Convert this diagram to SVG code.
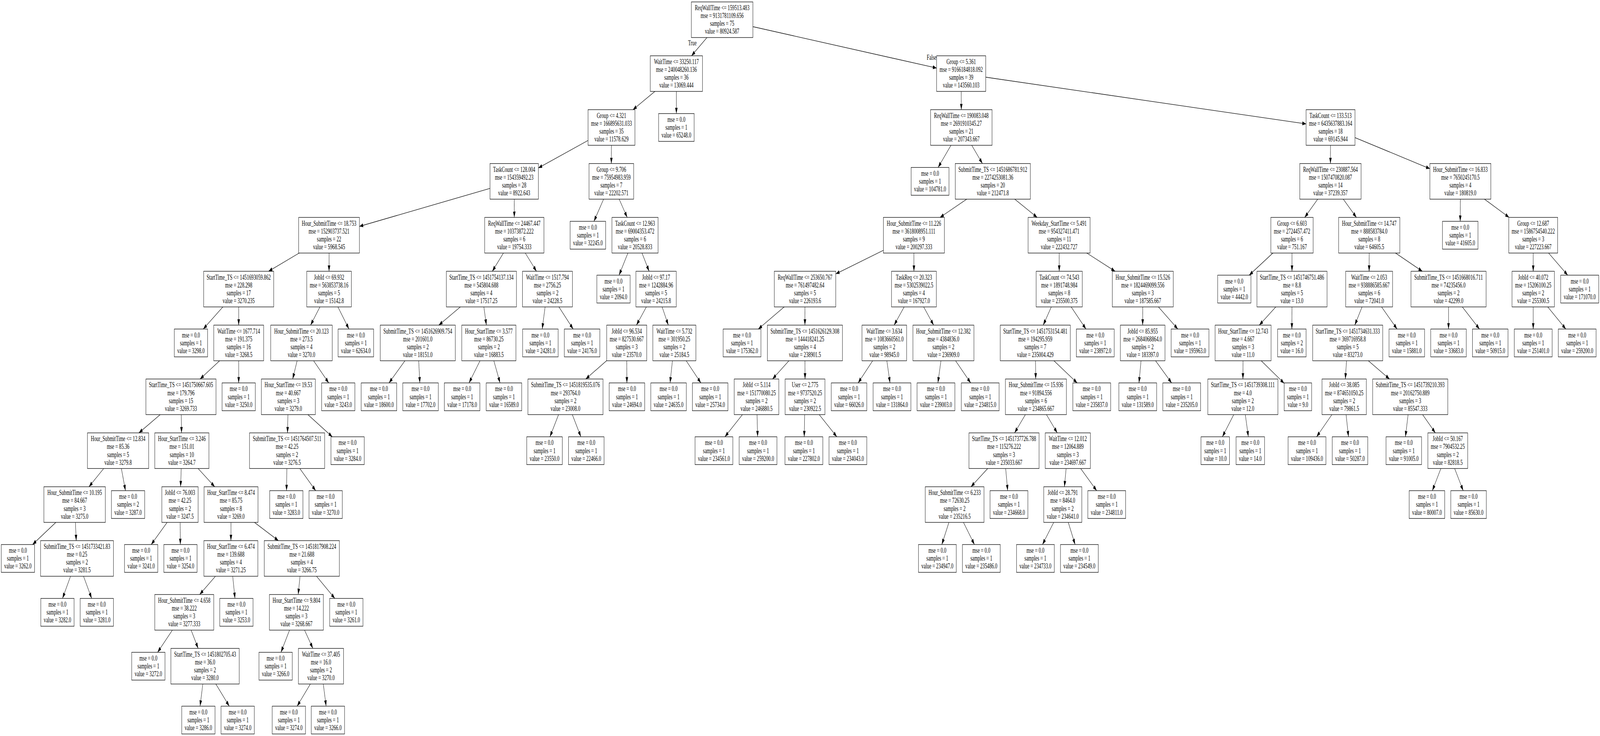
<svg xmlns="http://www.w3.org/2000/svg" width="6348" height="1884" viewBox="0 0 6348 1884" preserveAspectRatio="none" style="width:100vw;height:100vh;display:block">
<defs>
<style>
.n rect{fill:#fff;stroke:#000;stroke-width:1.3}
.n text,.lbl{font-family:"Liberation Serif","Times New Roman",serif;font-size:18.2px;text-anchor:middle;fill:#000}
.e line{stroke:#000;stroke-width:1.3;marker-end:url(#ah)}
</style>
<marker id="ah" markerUnits="userSpaceOnUse" viewBox="0 -6 16 12" refX="15" refY="0" markerWidth="16" markerHeight="12" orient="auto"><path d="M0,-5L15,0L0,5z" fill="#000"/></marker>
</defs>
<rect width="6348" height="1884" fill="#fff"/>
<g id="edges" class="e">
<line x1="2865" y1="50.5" x2="2743.5" y2="142.8"/>
<line x1="2865" y1="50.5" x2="3716" y2="174.2"/>
<line x1="2683.5" y1="188.4" x2="2511.2" y2="280.7"/>
<line x1="2683.5" y1="188.4" x2="2683.5" y2="290.7"/>
<line x1="3813.5" y1="188.4" x2="3814" y2="280.7"/>
<line x1="3813.5" y1="188.4" x2="5182" y2="317.2"/>
<line x1="2426" y1="326.3" x2="2136" y2="429.9"/>
<line x1="2426" y1="326.3" x2="2425.5" y2="418.6"/>
<line x1="3814" y1="326.3" x2="3722" y2="428.6"/>
<line x1="3814" y1="326.3" x2="3897.7" y2="418.6"/>
<line x1="5279" y1="326.3" x2="5278.5" y2="418.6"/>
<line x1="5279" y1="326.3" x2="5673" y2="431.8"/>
<line x1="2040" y1="464.2" x2="1426" y2="579.5"/>
<line x1="2040" y1="464.2" x2="2040.5" y2="556.5"/>
<line x1="2425.5" y1="464.2" x2="2356.5" y2="566.5"/>
<line x1="2425.5" y1="464.2" x2="2488.4" y2="556.5"/>
<line x1="3939" y1="464.2" x2="3729.5" y2="556.5"/>
<line x1="3939" y1="464.2" x2="4115" y2="556.5"/>
<line x1="5278.5" y1="464.2" x2="5176.4" y2="556.5"/>
<line x1="5278.5" y1="464.2" x2="5381.6" y2="556.5"/>
<line x1="5794" y1="464.2" x2="5793.5" y2="566.5"/>
<line x1="5794" y1="464.2" x2="5987.4" y2="556.5"/>
<line x1="1305.5" y1="602.1" x2="1065.6" y2="694.4"/>
<line x1="1305.5" y1="602.1" x2="1305.5" y2="694.4"/>
<line x1="2040.5" y1="602.1" x2="1953.2" y2="694.4"/>
<line x1="2040.5" y1="602.1" x2="2128.5" y2="694.4"/>
<line x1="2519.5" y1="602.1" x2="2456.1" y2="704.4"/>
<line x1="2519.5" y1="602.1" x2="2575.4" y2="694.4"/>
<line x1="3626" y1="602.1" x2="3316" y2="701.1"/>
<line x1="3626" y1="602.1" x2="3626" y2="694.4"/>
<line x1="4202" y1="602.1" x2="4202.5" y2="694.4"/>
<line x1="4202" y1="602.1" x2="4424.2" y2="694.4"/>
<line x1="5126" y1="602.1" x2="4956.1" y2="704.4"/>
<line x1="5126" y1="602.1" x2="5126" y2="694.4"/>
<line x1="5432.5" y1="602.1" x2="5432" y2="694.4"/>
<line x1="5432.5" y1="602.1" x2="5643" y2="694.4"/>
<line x1="6083" y1="602.1" x2="6083" y2="694.4"/>
<line x1="6083" y1="602.1" x2="6219.9" y2="704.4"/>
<line x1="947" y1="740" x2="806.4" y2="842.3"/>
<line x1="947" y1="740" x2="947" y2="832.3"/>
<line x1="1305.5" y1="740" x2="1232.2" y2="832.3"/>
<line x1="1305.5" y1="740" x2="1384.5" y2="842.3"/>
<line x1="1910" y1="740" x2="1741" y2="832.3"/>
<line x1="1910" y1="740" x2="1929.7" y2="832.3"/>
<line x1="2172" y1="740" x2="2151.2" y2="842.3"/>
<line x1="2172" y1="740" x2="2274" y2="842.3"/>
<line x1="2603" y1="740" x2="2525" y2="832.3"/>
<line x1="2603" y1="740" x2="2651.5" y2="832.3"/>
<line x1="3194" y1="740" x2="3008.6" y2="842.3"/>
<line x1="3194" y1="740" x2="3193.5" y2="832.3"/>
<line x1="3626" y1="740" x2="3547.4" y2="832.3"/>
<line x1="3626" y1="740" x2="3704.3" y2="832.3"/>
<line x1="4202.5" y1="740" x2="4138.9" y2="832.3"/>
<line x1="4202.5" y1="740" x2="4308.6" y2="842.3"/>
<line x1="4534" y1="740" x2="4533.5" y2="832.3"/>
<line x1="4534" y1="740" x2="4673.1" y2="842.3"/>
<line x1="5126" y1="740" x2="4996.2" y2="832.3"/>
<line x1="5126" y1="740" x2="5125.5" y2="842.3"/>
<line x1="5432" y1="740" x2="5375.1" y2="832.3"/>
<line x1="5432" y1="740" x2="5542.9" y2="842.3"/>
<line x1="5747" y1="740" x2="5747" y2="842.3"/>
<line x1="5747" y1="740" x2="5869.8" y2="842.3"/>
<line x1="6083" y1="740" x2="6083" y2="842.3"/>
<line x1="6083" y1="740" x2="6212.4" y2="842.3"/>
<line x1="947" y1="877.9" x2="793.7" y2="970.2"/>
<line x1="947" y1="877.9" x2="947" y2="980.2"/>
<line x1="1196" y1="877.9" x2="1161.2" y2="970.2"/>
<line x1="1196" y1="877.9" x2="1304.3" y2="980.2"/>
<line x1="1657.5" y1="877.9" x2="1543.3" y2="980.2"/>
<line x1="1657.5" y1="877.9" x2="1665.7" y2="980.2"/>
<line x1="1939.5" y1="877.9" x2="1860.9" y2="980.2"/>
<line x1="1939.5" y1="877.9" x2="1984" y2="980.2"/>
<line x1="2486.5" y1="877.9" x2="2323.9" y2="970.2"/>
<line x1="2486.5" y1="877.9" x2="2487.2" y2="980.2"/>
<line x1="2675.5" y1="877.9" x2="2658.4" y2="980.2"/>
<line x1="2675.5" y1="877.9" x2="2780.8" y2="980.2"/>
<line x1="3193.5" y1="877.9" x2="3065" y2="970.2"/>
<line x1="3193.5" y1="877.9" x2="3194" y2="970.2"/>
<line x1="3508.5" y1="877.9" x2="3404.6" y2="980.2"/>
<line x1="3508.5" y1="877.9" x2="3531.1" y2="980.2"/>
<line x1="3743" y1="877.9" x2="3721.1" y2="980.2"/>
<line x1="3743" y1="877.9" x2="3851.3" y2="980.2"/>
<line x1="4107.5" y1="877.9" x2="4109.2" y2="970.2"/>
<line x1="4107.5" y1="877.9" x2="4273.7" y2="980.2"/>
<line x1="4533.5" y1="877.9" x2="4519" y2="980.2"/>
<line x1="4533.5" y1="877.9" x2="4648.5" y2="980.2"/>
<line x1="4932" y1="877.9" x2="4931.3" y2="970.2"/>
<line x1="4932" y1="877.9" x2="5095" y2="981.2"/>
<line x1="5347" y1="877.9" x2="5337.6" y2="970.2"/>
<line x1="5347" y1="877.9" x2="5513" y2="970.2"/>
<line x1="718" y1="1015.8" x2="551" y2="1108.1"/>
<line x1="718" y1="1015.8" x2="720.3" y2="1108.1"/>
<line x1="1144" y1="1015.8" x2="1140.7" y2="1108.1"/>
<line x1="1144" y1="1015.8" x2="1318.3" y2="1118.1"/>
<line x1="2243.5" y1="1015.8" x2="2181.9" y2="1118.1"/>
<line x1="2243.5" y1="1015.8" x2="2304.7" y2="1118.1"/>
<line x1="3001.5" y1="1015.8" x2="2876.1" y2="1118.1"/>
<line x1="3001.5" y1="1015.8" x2="3006" y2="1118.1"/>
<line x1="3194" y1="1015.8" x2="3190.7" y2="1118.1"/>
<line x1="3194" y1="1015.8" x2="3320.1" y2="1118.1"/>
<line x1="4110" y1="1015.8" x2="4025.3" y2="1108.1"/>
<line x1="4110" y1="1015.8" x2="4194.7" y2="1108.1"/>
<line x1="4931" y1="1015.8" x2="4849.8" y2="1118.1"/>
<line x1="4931" y1="1015.8" x2="4952.9" y2="1118.1"/>
<line x1="5333" y1="1015.8" x2="5223.6" y2="1118.1"/>
<line x1="5333" y1="1015.8" x2="5350.1" y2="1118.1"/>
<line x1="5595" y1="1015.8" x2="5576.1" y2="1118.1"/>
<line x1="5595" y1="1015.8" x2="5694.7" y2="1108.1"/>
<line x1="468.5" y1="1153.7" x2="353" y2="1246"/>
<line x1="468.5" y1="1153.7" x2="497.8" y2="1256"/>
<line x1="721.5" y1="1153.7" x2="716.5" y2="1246"/>
<line x1="721.5" y1="1153.7" x2="852" y2="1246"/>
<line x1="1139" y1="1153.7" x2="1136.8" y2="1256"/>
<line x1="1139" y1="1153.7" x2="1252.5" y2="1256"/>
<line x1="3983.5" y1="1153.7" x2="3852.3" y2="1246"/>
<line x1="3983.5" y1="1153.7" x2="3998" y2="1256"/>
<line x1="4236.5" y1="1153.7" x2="4223.1" y2="1246"/>
<line x1="4236.5" y1="1153.7" x2="4351.1" y2="1256"/>
<line x1="5744" y1="1153.7" x2="5682.8" y2="1256"/>
<line x1="5744" y1="1153.7" x2="5805.2" y2="1256"/>
<line x1="296" y1="1291.6" x2="129.1" y2="1393.9"/>
<line x1="296" y1="1291.6" x2="302.4" y2="1383.9"/>
<line x1="714" y1="1291.6" x2="599.8" y2="1393.9"/>
<line x1="714" y1="1291.6" x2="715.5" y2="1393.9"/>
<line x1="916.5" y1="1291.6" x2="916.2" y2="1383.9"/>
<line x1="916.5" y1="1291.6" x2="1104.6" y2="1383.9"/>
<line x1="3787.5" y1="1291.6" x2="3736.7" y2="1393.9"/>
<line x1="3787.5" y1="1291.6" x2="3866.1" y2="1393.9"/>
<line x1="4216.5" y1="1291.6" x2="4136" y2="1393.9"/>
<line x1="4216.5" y1="1291.6" x2="4265.5" y2="1393.9"/>
<line x1="305.5" y1="1429.5" x2="248" y2="1531.8"/>
<line x1="305.5" y1="1429.5" x2="363.7" y2="1531.8"/>
<line x1="916" y1="1429.5" x2="792.2" y2="1521.8"/>
<line x1="916" y1="1429.5" x2="932.3" y2="1531.8"/>
<line x1="1197.5" y1="1429.5" x2="1183.1" y2="1521.8"/>
<line x1="1197.5" y1="1429.5" x2="1328.4" y2="1531.8"/>
<line x1="731" y1="1567.4" x2="625.3" y2="1669.7"/>
<line x1="731" y1="1567.4" x2="786.2" y2="1659.7"/>
<line x1="1176" y1="1567.4" x2="1114.8" y2="1669.7"/>
<line x1="1176" y1="1567.4" x2="1241.3" y2="1659.7"/>
<line x1="813.5" y1="1705.3" x2="793.8" y2="1807.6"/>
<line x1="813.5" y1="1705.3" x2="909.6" y2="1807.6"/>
<line x1="1273.5" y1="1705.3" x2="1178.9" y2="1807.6"/>
<line x1="1273.5" y1="1705.3" x2="1293.9" y2="1807.6"/>
</g>
<text class="lbl" x="2747" y="116.5">True</text>
<text class="lbl" x="3696" y="153">False</text>
<g id="n0" class="n" transform="translate(2865 50.5)"><rect x="-122" y="-45.6" width="244" height="91.2"/><text y="-24.4">ReqWallTime &lt;= 159513.483</text><text y="-4.3">mse = 9131781109.656</text><text y="15.9">samples = 75</text><text y="36">value = 80924.587</text></g>
<g id="n1" class="n" transform="translate(2683.5 188.4)"><rect x="-103.5" y="-45.6" width="207" height="91.2"/><text y="-24.4">WaitTime &lt;= 33250.117</text><text y="-4.3">mse = 240048260.136</text><text y="15.9">samples = 36</text><text y="36">value = 13069.444</text></g>
<g id="n2" class="n" transform="translate(3813.5 188.4)"><rect x="-97.5" y="-45.6" width="195" height="91.2"/><text y="-24.4">Group &lt;= 5.361</text><text y="-4.3">mse = 9166184818.092</text><text y="15.9">samples = 39</text><text y="36">value = 143560.103</text></g>
<g id="n3" class="n" transform="translate(2426 326.3)"><rect x="-93" y="-45.6" width="186" height="91.2"/><text y="-24.4">Group &lt;= 4.321</text><text y="-4.3">mse = 166895631.033</text><text y="15.9">samples = 35</text><text y="36">value = 11578.629</text></g>
<g id="n4" class="n" transform="translate(2683.5 326.3)"><rect x="-70.5" y="-35.6" width="141" height="71.2"/><text y="-14.4">mse = 0.0</text><text y="5.8">samples = 1</text><text y="26">value = 65248.0</text></g>
<g id="n5" class="n" transform="translate(3814 326.3)"><rect x="-122" y="-45.6" width="244" height="91.2"/><text y="-24.4">ReqWallTime &lt;= 190083.048</text><text y="-4.3">mse = 2691910345.27</text><text y="15.9">samples = 21</text><text y="36">value = 207343.667</text></g>
<g id="n6" class="n" transform="translate(5279 326.3)"><rect x="-97" y="-45.6" width="194" height="91.2"/><text y="-24.4">TaskCount &lt;= 133.513</text><text y="-4.3">mse = 6435637883.164</text><text y="15.9">samples = 18</text><text y="36">value = 69145.944</text></g>
<g id="n7" class="n" transform="translate(2040 464.2)"><rect x="-96" y="-45.6" width="192" height="91.2"/><text y="-24.4">TaskCount &lt;= 128.004</text><text y="-4.3">mse = 154359492.23</text><text y="15.9">samples = 28</text><text y="36">value = 8922.643</text></g>
<g id="n8" class="n" transform="translate(2425.5 464.2)"><rect x="-88.5" y="-45.6" width="177" height="91.2"/><text y="-24.4">Group &lt;= 9.706</text><text y="-4.3">mse = 75954983.959</text><text y="15.9">samples = 7</text><text y="36">value = 22202.571</text></g>
<g id="n9" class="n" transform="translate(3690 464.2)"><rect x="-75" y="-35.6" width="150" height="71.2"/><text y="-14.4">mse = 0.0</text><text y="5.8">samples = 1</text><text y="26">value = 104781.0</text></g>
<g id="n10" class="n" transform="translate(3939 464.2)"><rect x="-149" y="-45.6" width="298" height="91.2"/><text y="-24.4">SubmitTime_TS &lt;= 1451686781.912</text><text y="-4.3">mse = 2274253081.36</text><text y="15.9">samples = 20</text><text y="36">value = 212471.8</text></g>
<g id="n11" class="n" transform="translate(5278.5 464.2)"><rect x="-121.5" y="-45.6" width="243" height="91.2"/><text y="-24.4">ReqWallTime &lt;= 230887.564</text><text y="-4.3">mse = 1507470820.087</text><text y="15.9">samples = 14</text><text y="36">value = 37239.357</text></g>
<g id="n12" class="n" transform="translate(5794 464.2)"><rect x="-121" y="-45.6" width="242" height="91.2"/><text y="-24.4">Hour_SubmitTime &lt;= 16.833</text><text y="-4.3">mse = 7650245170.5</text><text y="15.9">samples = 4</text><text y="36">value = 180819.0</text></g>
<g id="n13" class="n" transform="translate(1305.5 602.1)"><rect x="-120.5" y="-45.6" width="241" height="91.2"/><text y="-24.4">Hour_SubmitTime &lt;= 18.753</text><text y="-4.3">mse = 152903737.521</text><text y="15.9">samples = 22</text><text y="36">value = 5968.545</text></g>
<g id="n14" class="n" transform="translate(2040.5 602.1)"><rect x="-117.5" y="-45.6" width="235" height="91.2"/><text y="-24.4">ReqWallTime &lt;= 24467.447</text><text y="-4.3">mse = 10373872.222</text><text y="15.9">samples = 6</text><text y="36">value = 19754.333</text></g>
<g id="n15" class="n" transform="translate(2332.5 602.1)"><rect x="-70.5" y="-35.6" width="141" height="71.2"/><text y="-14.4">mse = 0.0</text><text y="5.8">samples = 1</text><text y="26">value = 32245.0</text></g>
<g id="n16" class="n" transform="translate(2519.5 602.1)"><rect x="-91.5" y="-45.6" width="183" height="91.2"/><text y="-24.4">TaskCount &lt;= 12.963</text><text y="-4.3">mse = 69004353.472</text><text y="15.9">samples = 6</text><text y="36">value = 20528.833</text></g>
<g id="n17" class="n" transform="translate(3626 602.1)"><rect x="-121" y="-45.6" width="242" height="91.2"/><text y="-24.4">Hour_SubmitTime &lt;= 11.226</text><text y="-4.3">mse = 3618008951.111</text><text y="15.9">samples = 9</text><text y="36">value = 200297.333</text></g>
<g id="n18" class="n" transform="translate(4202 602.1)"><rect x="-123" y="-45.6" width="246" height="91.2"/><text y="-24.4">Weekday_StartTime &lt;= 5.491</text><text y="-4.3">mse = 954327411.471</text><text y="15.9">samples = 11</text><text y="36">value = 222432.727</text></g>
<g id="n19" class="n" transform="translate(5126 602.1)"><rect x="-84" y="-45.6" width="168" height="91.2"/><text y="-24.4">Group &lt;= 6.603</text><text y="-4.3">mse = 2724457.472</text><text y="15.9">samples = 6</text><text y="36">value = 751.167</text></g>
<g id="n20" class="n" transform="translate(5432.5 602.1)"><rect x="-121.5" y="-45.6" width="243" height="91.2"/><text y="-24.4">Hour_SubmitTime &lt;= 14.747</text><text y="-4.3">mse = 888583784.0</text><text y="15.9">samples = 8</text><text y="36">value = 64605.5</text></g>
<g id="n21" class="n" transform="translate(5793.5 602.1)"><rect x="-70.5" y="-35.6" width="141" height="71.2"/><text y="-14.4">mse = 0.0</text><text y="5.8">samples = 1</text><text y="26">value = 41605.0</text></g>
<g id="n22" class="n" transform="translate(6083 602.1)"><rect x="-97" y="-45.6" width="194" height="91.2"/><text y="-24.4">Group &lt;= 12.687</text><text y="-4.3">mse = 1586754540.222</text><text y="15.9">samples = 3</text><text y="36">value = 227223.667</text></g>
<g id="n23" class="n" transform="translate(947 740)"><rect x="-139" y="-45.6" width="278" height="91.2"/><text y="-24.4">StartTime_TS &lt;= 1451693059.862</text><text y="-4.3">mse = 228.298</text><text y="15.9">samples = 17</text><text y="36">value = 3270.235</text></g>
<g id="n24" class="n" transform="translate(1305.5 740)"><rect x="-88.5" y="-45.6" width="177" height="91.2"/><text y="-24.4">JobId &lt;= 69.932</text><text y="-4.3">mse = 563853738.16</text><text y="15.9">samples = 5</text><text y="36">value = 15142.8</text></g>
<g id="n25" class="n" transform="translate(1910 740)"><rect x="-139" y="-45.6" width="278" height="91.2"/><text y="-24.4">StartTime_TS &lt;= 1451754137.134</text><text y="-4.3">mse = 545804.688</text><text y="15.9">samples = 4</text><text y="36">value = 17517.25</text></g>
<g id="n26" class="n" transform="translate(2172 740)"><rect x="-99" y="-45.6" width="198" height="91.2"/><text y="-24.4">WaitTime &lt;= 1517.794</text><text y="-4.3">mse = 2756.25</text><text y="15.9">samples = 2</text><text y="36">value = 24228.5</text></g>
<g id="n27" class="n" transform="translate(2434 740)"><rect x="-66" y="-35.6" width="132" height="71.2"/><text y="-14.4">mse = 0.0</text><text y="5.8">samples = 1</text><text y="26">value = 2094.0</text></g>
<g id="n28" class="n" transform="translate(2603 740)"><rect x="-80" y="-45.6" width="160" height="91.2"/><text y="-24.4">JobId &lt;= 97.17</text><text y="-4.3">mse = 1242884.96</text><text y="15.9">samples = 5</text><text y="36">value = 24215.8</text></g>
<g id="n29" class="n" transform="translate(3194 740)"><rect x="-122" y="-45.6" width="244" height="91.2"/><text y="-24.4">ReqWallTime &lt;= 253650.767</text><text y="-4.3">mse = 761497482.64</text><text y="15.9">samples = 5</text><text y="36">value = 226193.6</text></g>
<g id="n30" class="n" transform="translate(3626 740)"><rect x="-89" y="-45.6" width="178" height="91.2"/><text y="-24.4">TaskReq &lt;= 20.323</text><text y="-4.3">mse = 5302539022.5</text><text y="15.9">samples = 4</text><text y="36">value = 167927.0</text></g>
<g id="n31" class="n" transform="translate(4202.5 740)"><rect x="-91.5" y="-45.6" width="183" height="91.2"/><text y="-24.4">TaskCount &lt;= 74.543</text><text y="-4.3">mse = 1891748.984</text><text y="15.9">samples = 8</text><text y="36">value = 235500.375</text></g>
<g id="n32" class="n" transform="translate(4534 740)"><rect x="-121" y="-45.6" width="242" height="91.2"/><text y="-24.4">Hour_SubmitTime &lt;= 15.526</text><text y="-4.3">mse = 1824469099.556</text><text y="15.9">samples = 3</text><text y="36">value = 187585.667</text></g>
<g id="n33" class="n" transform="translate(4897 740)"><rect x="-66" y="-35.6" width="132" height="71.2"/><text y="-14.4">mse = 0.0</text><text y="5.8">samples = 1</text><text y="26">value = 4442.0</text></g>
<g id="n34" class="n" transform="translate(5126 740)"><rect x="-139" y="-45.6" width="278" height="91.2"/><text y="-24.4">StartTime_TS &lt;= 1451746751.486</text><text y="-4.3">mse = 8.8</text><text y="15.9">samples = 5</text><text y="36">value = 13.0</text></g>
<g id="n35" class="n" transform="translate(5432 740)"><rect x="-93" y="-45.6" width="186" height="91.2"/><text y="-24.4">WaitTime &lt;= 2.053</text><text y="-4.3">mse = 938886585.667</text><text y="15.9">samples = 6</text><text y="36">value = 72041.0</text></g>
<g id="n36" class="n" transform="translate(5747 740)"><rect x="-149" y="-45.6" width="298" height="91.2"/><text y="-24.4">SubmitTime_TS &lt;= 1451668016.711</text><text y="-4.3">mse = 74235456.0</text><text y="15.9">samples = 2</text><text y="36">value = 42299.0</text></g>
<g id="n37" class="n" transform="translate(6083 740)"><rect x="-84" y="-45.6" width="168" height="91.2"/><text y="-24.4">JobId &lt;= 40.072</text><text y="-4.3">mse = 15206100.25</text><text y="15.9">samples = 2</text><text y="36">value = 255300.5</text></g>
<g id="n38" class="n" transform="translate(6267.5 740)"><rect x="-75.5" y="-35.6" width="151" height="71.2"/><text y="-14.4">mse = 0.0</text><text y="5.8">samples = 1</text><text y="26">value = 171070.0</text></g>
<g id="n39" class="n" transform="translate(757.5 877.9)"><rect x="-66" y="-35.6" width="132" height="71.2"/><text y="-14.4">mse = 0.0</text><text y="5.8">samples = 1</text><text y="26">value = 3298.0</text></g>
<g id="n40" class="n" transform="translate(947 877.9)"><rect x="-99" y="-45.6" width="198" height="91.2"/><text y="-24.4">WaitTime &lt;= 1677.714</text><text y="-4.3">mse = 191.375</text><text y="15.9">samples = 16</text><text y="36">value = 3268.5</text></g>
<g id="n41" class="n" transform="translate(1196 877.9)"><rect x="-122" y="-45.6" width="244" height="91.2"/><text y="-24.4">Hour_SubmitTime &lt;= 20.123</text><text y="-4.3">mse = 273.5</text><text y="15.9">samples = 4</text><text y="36">value = 3270.0</text></g>
<g id="n42" class="n" transform="translate(1412 877.9)"><rect x="-70.5" y="-35.6" width="141" height="71.2"/><text y="-14.4">mse = 0.0</text><text y="5.8">samples = 1</text><text y="26">value = 62634.0</text></g>
<g id="n43" class="n" transform="translate(1657.5 877.9)"><rect x="-149" y="-45.6" width="298" height="91.2"/><text y="-24.4">SubmitTime_TS &lt;= 1451626909.754</text><text y="-4.3">mse = 201601.0</text><text y="15.9">samples = 2</text><text y="36">value = 18151.0</text></g>
<g id="n44" class="n" transform="translate(1939.5 877.9)"><rect x="-107.5" y="-45.6" width="215" height="91.2"/><text y="-24.4">Hour_StartTime &lt;= 3.577</text><text y="-4.3">mse = 86730.25</text><text y="15.9">samples = 2</text><text y="36">value = 16883.5</text></g>
<g id="n45" class="n" transform="translate(2144 877.9)"><rect x="-70.5" y="-35.6" width="141" height="71.2"/><text y="-14.4">mse = 0.0</text><text y="5.8">samples = 1</text><text y="26">value = 24281.0</text></g>
<g id="n46" class="n" transform="translate(2309.5 877.9)"><rect x="-70.5" y="-35.6" width="141" height="71.2"/><text y="-14.4">mse = 0.0</text><text y="5.8">samples = 1</text><text y="26">value = 24176.0</text></g>
<g id="n47" class="n" transform="translate(2486.5 877.9)"><rect x="-79.5" y="-45.6" width="159" height="91.2"/><text y="-24.4">JobId &lt;= 96.534</text><text y="-4.3">mse = 827530.667</text><text y="15.9">samples = 3</text><text y="36">value = 23570.0</text></g>
<g id="n48" class="n" transform="translate(2675.5 877.9)"><rect x="-85.5" y="-45.6" width="171" height="91.2"/><text y="-24.4">WaitTime &lt;= 5.732</text><text y="-4.3">mse = 301950.25</text><text y="15.9">samples = 2</text><text y="36">value = 25184.5</text></g>
<g id="n49" class="n" transform="translate(2944 877.9)"><rect x="-75" y="-35.6" width="150" height="71.2"/><text y="-14.4">mse = 0.0</text><text y="5.8">samples = 1</text><text y="26">value = 175362.0</text></g>
<g id="n50" class="n" transform="translate(3193.5 877.9)"><rect x="-149" y="-45.6" width="298" height="91.2"/><text y="-24.4">SubmitTime_TS &lt;= 1451626129.308</text><text y="-4.3">mse = 144418241.25</text><text y="15.9">samples = 4</text><text y="36">value = 238901.5</text></g>
<g id="n51" class="n" transform="translate(3508.5 877.9)"><rect x="-88.5" y="-45.6" width="177" height="91.2"/><text y="-24.4">WaitTime &lt;= 3.634</text><text y="-4.3">mse = 1083660561.0</text><text y="15.9">samples = 2</text><text y="36">value = 98945.0</text></g>
<g id="n52" class="n" transform="translate(3743 877.9)"><rect x="-121" y="-45.6" width="242" height="91.2"/><text y="-24.4">Hour_SubmitTime &lt;= 12.382</text><text y="-4.3">mse = 4384836.0</text><text y="15.9">samples = 2</text><text y="36">value = 236909.0</text></g>
<g id="n53" class="n" transform="translate(4107.5 877.9)"><rect x="-139" y="-45.6" width="278" height="91.2"/><text y="-24.4">StartTime_TS &lt;= 1451753154.481</text><text y="-4.3">mse = 194295.959</text><text y="15.9">samples = 7</text><text y="36">value = 235004.429</text></g>
<g id="n54" class="n" transform="translate(4345.5 877.9)"><rect x="-75" y="-35.6" width="150" height="71.2"/><text y="-14.4">mse = 0.0</text><text y="5.8">samples = 1</text><text y="26">value = 238972.0</text></g>
<g id="n55" class="n" transform="translate(4533.5 877.9)"><rect x="-88.5" y="-45.6" width="177" height="91.2"/><text y="-24.4">JobId &lt;= 85.955</text><text y="-4.3">mse = 2684068864.0</text><text y="15.9">samples = 2</text><text y="36">value = 183397.0</text></g>
<g id="n56" class="n" transform="translate(4721.5 877.9)"><rect x="-75" y="-35.6" width="150" height="71.2"/><text y="-14.4">mse = 0.0</text><text y="5.8">samples = 1</text><text y="26">value = 195963.0</text></g>
<g id="n57" class="n" transform="translate(4932 877.9)"><rect x="-111" y="-45.6" width="222" height="91.2"/><text y="-24.4">Hour_StartTime &lt;= 12.743</text><text y="-4.3">mse = 4.667</text><text y="15.9">samples = 3</text><text y="36">value = 11.0</text></g>
<g id="n58" class="n" transform="translate(5125.5 877.9)"><rect x="-56.5" y="-35.6" width="113" height="71.2"/><text y="-14.4">mse = 0.0</text><text y="5.8">samples = 2</text><text y="26">value = 16.0</text></g>
<g id="n59" class="n" transform="translate(5347 877.9)"><rect x="-139" y="-45.6" width="278" height="91.2"/><text y="-24.4">StartTime_TS &lt;= 1451734631.333</text><text y="-4.3">mse = 369716958.8</text><text y="15.9">samples = 5</text><text y="36">value = 83273.0</text></g>
<g id="n60" class="n" transform="translate(5581.5 877.9)"><rect x="-70.5" y="-35.6" width="141" height="71.2"/><text y="-14.4">mse = 0.0</text><text y="5.8">samples = 1</text><text y="26">value = 15881.0</text></g>
<g id="n61" class="n" transform="translate(5747 877.9)"><rect x="-70.5" y="-35.6" width="141" height="71.2"/><text y="-14.4">mse = 0.0</text><text y="5.8">samples = 1</text><text y="26">value = 33683.0</text></g>
<g id="n62" class="n" transform="translate(5912.5 877.9)"><rect x="-70.5" y="-35.6" width="141" height="71.2"/><text y="-14.4">mse = 0.0</text><text y="5.8">samples = 1</text><text y="26">value = 50915.0</text></g>
<g id="n63" class="n" transform="translate(6083 877.9)"><rect x="-75" y="-35.6" width="150" height="71.2"/><text y="-14.4">mse = 0.0</text><text y="5.8">samples = 1</text><text y="26">value = 251401.0</text></g>
<g id="n64" class="n" transform="translate(6257.5 877.9)"><rect x="-75" y="-35.6" width="150" height="71.2"/><text y="-14.4">mse = 0.0</text><text y="5.8">samples = 1</text><text y="26">value = 259200.0</text></g>
<g id="n65" class="n" transform="translate(718 1015.8)"><rect x="-139" y="-45.6" width="278" height="91.2"/><text y="-24.4">StartTime_TS &lt;= 1451750667.605</text><text y="-4.3">mse = 179.796</text><text y="15.9">samples = 15</text><text y="36">value = 3269.733</text></g>
<g id="n66" class="n" transform="translate(947 1015.8)"><rect x="-66" y="-35.6" width="132" height="71.2"/><text y="-14.4">mse = 0.0</text><text y="5.8">samples = 1</text><text y="26">value = 3250.0</text></g>
<g id="n67" class="n" transform="translate(1144 1015.8)"><rect x="-107" y="-45.6" width="214" height="91.2"/><text y="-24.4">Hour_StartTime &lt;= 19.53</text><text y="-4.3">mse = 40.667</text><text y="15.9">samples = 3</text><text y="36">value = 3279.0</text></g>
<g id="n68" class="n" transform="translate(1342 1015.8)"><rect x="-66" y="-35.6" width="132" height="71.2"/><text y="-14.4">mse = 0.0</text><text y="5.8">samples = 1</text><text y="26">value = 3243.0</text></g>
<g id="n69" class="n" transform="translate(1503.5 1015.8)"><rect x="-70.5" y="-35.6" width="141" height="71.2"/><text y="-14.4">mse = 0.0</text><text y="5.8">samples = 1</text><text y="26">value = 18600.0</text></g>
<g id="n70" class="n" transform="translate(1668.5 1015.8)"><rect x="-70.5" y="-35.6" width="141" height="71.2"/><text y="-14.4">mse = 0.0</text><text y="5.8">samples = 1</text><text y="26">value = 17702.0</text></g>
<g id="n71" class="n" transform="translate(1833.5 1015.8)"><rect x="-70.5" y="-35.6" width="141" height="71.2"/><text y="-14.4">mse = 0.0</text><text y="5.8">samples = 1</text><text y="26">value = 17178.0</text></g>
<g id="n72" class="n" transform="translate(1999.5 1015.8)"><rect x="-70.5" y="-35.6" width="141" height="71.2"/><text y="-14.4">mse = 0.0</text><text y="5.8">samples = 1</text><text y="26">value = 16589.0</text></g>
<g id="n73" class="n" transform="translate(2243.5 1015.8)"><rect x="-149" y="-45.6" width="298" height="91.2"/><text y="-24.4">SubmitTime_TS &lt;= 1451819535.076</text><text y="-4.3">mse = 293764.0</text><text y="15.9">samples = 2</text><text y="36">value = 23008.0</text></g>
<g id="n74" class="n" transform="translate(2487.5 1015.8)"><rect x="-70.5" y="-35.6" width="141" height="71.2"/><text y="-14.4">mse = 0.0</text><text y="5.8">samples = 1</text><text y="26">value = 24694.0</text></g>
<g id="n75" class="n" transform="translate(2652.5 1015.8)"><rect x="-70.5" y="-35.6" width="141" height="71.2"/><text y="-14.4">mse = 0.0</text><text y="5.8">samples = 1</text><text y="26">value = 24635.0</text></g>
<g id="n76" class="n" transform="translate(2817.5 1015.8)"><rect x="-70.5" y="-35.6" width="141" height="71.2"/><text y="-14.4">mse = 0.0</text><text y="5.8">samples = 1</text><text y="26">value = 25734.0</text></g>
<g id="n77" class="n" transform="translate(3001.5 1015.8)"><rect x="-88.5" y="-45.6" width="177" height="91.2"/><text y="-24.4">JobId &lt;= 5.114</text><text y="-4.3">mse = 151770080.25</text><text y="15.9">samples = 2</text><text y="36">value = 246880.5</text></g>
<g id="n78" class="n" transform="translate(3194 1015.8)"><rect x="-79" y="-45.6" width="158" height="91.2"/><text y="-24.4">User &lt;= 2.775</text><text y="-4.3">mse = 9737520.25</text><text y="15.9">samples = 2</text><text y="36">value = 230922.5</text></g>
<g id="n79" class="n" transform="translate(3368.5 1015.8)"><rect x="-70.5" y="-35.6" width="141" height="71.2"/><text y="-14.4">mse = 0.0</text><text y="5.8">samples = 1</text><text y="26">value = 66026.0</text></g>
<g id="n80" class="n" transform="translate(3539 1015.8)"><rect x="-75" y="-35.6" width="150" height="71.2"/><text y="-14.4">mse = 0.0</text><text y="5.8">samples = 1</text><text y="26">value = 131864.0</text></g>
<g id="n81" class="n" transform="translate(3713.5 1015.8)"><rect x="-75" y="-35.6" width="150" height="71.2"/><text y="-14.4">mse = 0.0</text><text y="5.8">samples = 1</text><text y="26">value = 239003.0</text></g>
<g id="n82" class="n" transform="translate(3889 1015.8)"><rect x="-75" y="-35.6" width="150" height="71.2"/><text y="-14.4">mse = 0.0</text><text y="5.8">samples = 1</text><text y="26">value = 234815.0</text></g>
<g id="n83" class="n" transform="translate(4110 1015.8)"><rect x="-121" y="-45.6" width="242" height="91.2"/><text y="-24.4">Hour_SubmitTime &lt;= 15.936</text><text y="-4.3">mse = 91894.556</text><text y="15.9">samples = 6</text><text y="36">value = 234865.667</text></g>
<g id="n84" class="n" transform="translate(4331.5 1015.8)"><rect x="-75" y="-35.6" width="150" height="71.2"/><text y="-14.4">mse = 0.0</text><text y="5.8">samples = 1</text><text y="26">value = 235837.0</text></g>
<g id="n85" class="n" transform="translate(4514 1015.8)"><rect x="-75" y="-35.6" width="150" height="71.2"/><text y="-14.4">mse = 0.0</text><text y="5.8">samples = 1</text><text y="26">value = 131589.0</text></g>
<g id="n86" class="n" transform="translate(4688.5 1015.8)"><rect x="-75" y="-35.6" width="150" height="71.2"/><text y="-14.4">mse = 0.0</text><text y="5.8">samples = 1</text><text y="26">value = 235205.0</text></g>
<g id="n87" class="n" transform="translate(4931 1015.8)"><rect x="-139" y="-45.6" width="278" height="91.2"/><text y="-24.4">StartTime_TS &lt;= 1451739308.111</text><text y="-4.3">mse = 4.0</text><text y="15.9">samples = 2</text><text y="36">value = 12.0</text></g>
<g id="n88" class="n" transform="translate(5149.5 1015.8)"><rect x="-54.5" y="-35.6" width="109" height="71.2"/><text y="-14.4">mse = 0.0</text><text y="5.8">samples = 1</text><text y="26">value = 9.0</text></g>
<g id="n89" class="n" transform="translate(5333 1015.8)"><rect x="-88" y="-45.6" width="176" height="91.2"/><text y="-24.4">JobId &lt;= 38.085</text><text y="-4.3">mse = 874651050.25</text><text y="15.9">samples = 2</text><text y="36">value = 79861.5</text></g>
<g id="n90" class="n" transform="translate(5595 1015.8)"><rect x="-149" y="-45.6" width="298" height="91.2"/><text y="-24.4">SubmitTime_TS &lt;= 1451739210.393</text><text y="-4.3">mse = 20162750.889</text><text y="15.9">samples = 3</text><text y="36">value = 85547.333</text></g>
<g id="n91" class="n" transform="translate(468.5 1153.7)"><rect x="-121.5" y="-45.6" width="243" height="91.2"/><text y="-24.4">Hour_SubmitTime &lt;= 12.834</text><text y="-4.3">mse = 85.36</text><text y="15.9">samples = 5</text><text y="36">value = 3279.8</text></g>
<g id="n92" class="n" transform="translate(721.5 1153.7)"><rect x="-107.5" y="-45.6" width="215" height="91.2"/><text y="-24.4">Hour_StartTime &lt;= 3.246</text><text y="-4.3">mse = 151.01</text><text y="15.9">samples = 10</text><text y="36">value = 3264.7</text></g>
<g id="n93" class="n" transform="translate(1139 1153.7)"><rect x="-149" y="-45.6" width="298" height="91.2"/><text y="-24.4">SubmitTime_TS &lt;= 1451764507.511</text><text y="-4.3">mse = 42.25</text><text y="15.9">samples = 2</text><text y="36">value = 3276.5</text></g>
<g id="n94" class="n" transform="translate(1379 1153.7)"><rect x="-66" y="-35.6" width="132" height="71.2"/><text y="-14.4">mse = 0.0</text><text y="5.8">samples = 1</text><text y="26">value = 3284.0</text></g>
<g id="n95" class="n" transform="translate(2160.5 1153.7)"><rect x="-70.5" y="-35.6" width="141" height="71.2"/><text y="-14.4">mse = 0.0</text><text y="5.8">samples = 1</text><text y="26">value = 23550.0</text></g>
<g id="n96" class="n" transform="translate(2326 1153.7)"><rect x="-70.5" y="-35.6" width="141" height="71.2"/><text y="-14.4">mse = 0.0</text><text y="5.8">samples = 1</text><text y="26">value = 22466.0</text></g>
<g id="n97" class="n" transform="translate(2832.5 1153.7)"><rect x="-75" y="-35.6" width="150" height="71.2"/><text y="-14.4">mse = 0.0</text><text y="5.8">samples = 1</text><text y="26">value = 234561.0</text></g>
<g id="n98" class="n" transform="translate(3007.5 1153.7)"><rect x="-75" y="-35.6" width="150" height="71.2"/><text y="-14.4">mse = 0.0</text><text y="5.8">samples = 1</text><text y="26">value = 259200.0</text></g>
<g id="n99" class="n" transform="translate(3189.5 1153.7)"><rect x="-75" y="-35.6" width="150" height="71.2"/><text y="-14.4">mse = 0.0</text><text y="5.8">samples = 1</text><text y="26">value = 227802.0</text></g>
<g id="n100" class="n" transform="translate(3364 1153.7)"><rect x="-75" y="-35.6" width="150" height="71.2"/><text y="-14.4">mse = 0.0</text><text y="5.8">samples = 1</text><text y="26">value = 234043.0</text></g>
<g id="n101" class="n" transform="translate(3983.5 1153.7)"><rect x="-139" y="-45.6" width="278" height="91.2"/><text y="-24.4">StartTime_TS &lt;= 1451737726.788</text><text y="-4.3">mse = 115276.222</text><text y="15.9">samples = 3</text><text y="36">value = 235033.667</text></g>
<g id="n102" class="n" transform="translate(4236.5 1153.7)"><rect x="-89.5" y="-45.6" width="179" height="91.2"/><text y="-24.4">WaitTime &lt;= 12.012</text><text y="-4.3">mse = 12064.889</text><text y="15.9">samples = 3</text><text y="36">value = 234697.667</text></g>
<g id="n103" class="n" transform="translate(4821.5 1153.7)"><rect x="-56.5" y="-35.6" width="113" height="71.2"/><text y="-14.4">mse = 0.0</text><text y="5.8">samples = 1</text><text y="26">value = 10.0</text></g>
<g id="n104" class="n" transform="translate(4960.5 1153.7)"><rect x="-56.5" y="-35.6" width="113" height="71.2"/><text y="-14.4">mse = 0.0</text><text y="5.8">samples = 1</text><text y="26">value = 14.0</text></g>
<g id="n105" class="n" transform="translate(5185.5 1153.7)"><rect x="-75" y="-35.6" width="150" height="71.2"/><text y="-14.4">mse = 0.0</text><text y="5.8">samples = 1</text><text y="26">value = 109436.0</text></g>
<g id="n106" class="n" transform="translate(5356 1153.7)"><rect x="-70.5" y="-35.6" width="141" height="71.2"/><text y="-14.4">mse = 0.0</text><text y="5.8">samples = 1</text><text y="26">value = 50287.0</text></g>
<g id="n107" class="n" transform="translate(5569.5 1153.7)"><rect x="-70.5" y="-35.6" width="141" height="71.2"/><text y="-14.4">mse = 0.0</text><text y="5.8">samples = 1</text><text y="26">value = 91005.0</text></g>
<g id="n108" class="n" transform="translate(5744 1153.7)"><rect x="-79" y="-45.6" width="158" height="91.2"/><text y="-24.4">JobId &lt;= 50.167</text><text y="-4.3">mse = 7904532.25</text><text y="15.9">samples = 2</text><text y="36">value = 82818.5</text></g>
<g id="n109" class="n" transform="translate(296 1291.6)"><rect x="-122" y="-45.6" width="244" height="91.2"/><text y="-24.4">Hour_SubmitTime &lt;= 10.195</text><text y="-4.3">mse = 84.667</text><text y="15.9">samples = 3</text><text y="36">value = 3275.0</text></g>
<g id="n110" class="n" transform="translate(508 1291.6)"><rect x="-66" y="-35.6" width="132" height="71.2"/><text y="-14.4">mse = 0.0</text><text y="5.8">samples = 2</text><text y="26">value = 3287.0</text></g>
<g id="n111" class="n" transform="translate(714 1291.6)"><rect x="-72" y="-45.6" width="144" height="91.2"/><text y="-24.4">JobId &lt;= 76.003</text><text y="-4.3">mse = 42.25</text><text y="15.9">samples = 2</text><text y="36">value = 3247.5</text></g>
<g id="n112" class="n" transform="translate(916.5 1291.6)"><rect x="-107" y="-45.6" width="214" height="91.2"/><text y="-24.4">Hour_StartTime &lt;= 8.474</text><text y="-4.3">mse = 85.75</text><text y="15.9">samples = 8</text><text y="36">value = 3269.0</text></g>
<g id="n113" class="n" transform="translate(1136 1291.6)"><rect x="-66" y="-35.6" width="132" height="71.2"/><text y="-14.4">mse = 0.0</text><text y="5.8">samples = 1</text><text y="26">value = 3283.0</text></g>
<g id="n114" class="n" transform="translate(1292 1291.6)"><rect x="-66" y="-35.6" width="132" height="71.2"/><text y="-14.4">mse = 0.0</text><text y="5.8">samples = 1</text><text y="26">value = 3270.0</text></g>
<g id="n115" class="n" transform="translate(3787.5 1291.6)"><rect x="-116.5" y="-45.6" width="233" height="91.2"/><text y="-24.4">Hour_SubmitTime &lt;= 6.233</text><text y="-4.3">mse = 72630.25</text><text y="15.9">samples = 2</text><text y="36">value = 235216.5</text></g>
<g id="n116" class="n" transform="translate(4003 1291.6)"><rect x="-75" y="-35.6" width="150" height="71.2"/><text y="-14.4">mse = 0.0</text><text y="5.8">samples = 1</text><text y="26">value = 234668.0</text></g>
<g id="n117" class="n" transform="translate(4216.5 1291.6)"><rect x="-75.5" y="-45.6" width="151" height="91.2"/><text y="-24.4">JobId &lt;= 28.791</text><text y="-4.3">mse = 8464.0</text><text y="15.9">samples = 2</text><text y="36">value = 234641.0</text></g>
<g id="n118" class="n" transform="translate(4391 1291.6)"><rect x="-75" y="-35.6" width="150" height="71.2"/><text y="-14.4">mse = 0.0</text><text y="5.8">samples = 1</text><text y="26">value = 234811.0</text></g>
<g id="n119" class="n" transform="translate(5661.5 1291.6)"><rect x="-70.5" y="-35.6" width="141" height="71.2"/><text y="-14.4">mse = 0.0</text><text y="5.8">samples = 1</text><text y="26">value = 80007.0</text></g>
<g id="n120" class="n" transform="translate(5826.5 1291.6)"><rect x="-70.5" y="-35.6" width="141" height="71.2"/><text y="-14.4">mse = 0.0</text><text y="5.8">samples = 1</text><text y="26">value = 85630.0</text></g>
<g id="n121" class="n" transform="translate(71 1429.5)"><rect x="-66" y="-35.6" width="132" height="71.2"/><text y="-14.4">mse = 0.0</text><text y="5.8">samples = 1</text><text y="26">value = 3262.0</text></g>
<g id="n122" class="n" transform="translate(305.5 1429.5)"><rect x="-144.5" y="-45.6" width="289" height="91.2"/><text y="-24.4">SubmitTime_TS &lt;= 1451733421.83</text><text y="-4.3">mse = 0.25</text><text y="15.9">samples = 2</text><text y="36">value = 3281.5</text></g>
<g id="n123" class="n" transform="translate(560 1429.5)"><rect x="-66" y="-35.6" width="132" height="71.2"/><text y="-14.4">mse = 0.0</text><text y="5.8">samples = 1</text><text y="26">value = 3241.0</text></g>
<g id="n124" class="n" transform="translate(716 1429.5)"><rect x="-66" y="-35.6" width="132" height="71.2"/><text y="-14.4">mse = 0.0</text><text y="5.8">samples = 1</text><text y="26">value = 3254.0</text></g>
<g id="n125" class="n" transform="translate(916 1429.5)"><rect x="-107" y="-45.6" width="214" height="91.2"/><text y="-24.4">Hour_StartTime &lt;= 6.474</text><text y="-4.3">mse = 139.688</text><text y="15.9">samples = 4</text><text y="36">value = 3271.25</text></g>
<g id="n126" class="n" transform="translate(1197.5 1429.5)"><rect x="-149" y="-45.6" width="298" height="91.2"/><text y="-24.4">SubmitTime_TS &lt;= 1451817908.224</text><text y="-4.3">mse = 21.688</text><text y="15.9">samples = 4</text><text y="36">value = 3266.75</text></g>
<g id="n127" class="n" transform="translate(3719 1429.5)"><rect x="-75" y="-35.6" width="150" height="71.2"/><text y="-14.4">mse = 0.0</text><text y="5.8">samples = 1</text><text y="26">value = 234947.0</text></g>
<g id="n128" class="n" transform="translate(3893.5 1429.5)"><rect x="-75" y="-35.6" width="150" height="71.2"/><text y="-14.4">mse = 0.0</text><text y="5.8">samples = 1</text><text y="26">value = 235486.0</text></g>
<g id="n129" class="n" transform="translate(4108 1429.5)"><rect x="-75" y="-35.6" width="150" height="71.2"/><text y="-14.4">mse = 0.0</text><text y="5.8">samples = 1</text><text y="26">value = 234733.0</text></g>
<g id="n130" class="n" transform="translate(4282.5 1429.5)"><rect x="-75" y="-35.6" width="150" height="71.2"/><text y="-14.4">mse = 0.0</text><text y="5.8">samples = 1</text><text y="26">value = 234549.0</text></g>
<g id="n131" class="n" transform="translate(228 1567.4)"><rect x="-66" y="-35.6" width="132" height="71.2"/><text y="-14.4">mse = 0.0</text><text y="5.8">samples = 1</text><text y="26">value = 3282.0</text></g>
<g id="n132" class="n" transform="translate(384 1567.4)"><rect x="-66" y="-35.6" width="132" height="71.2"/><text y="-14.4">mse = 0.0</text><text y="5.8">samples = 1</text><text y="26">value = 3281.0</text></g>
<g id="n133" class="n" transform="translate(731 1567.4)"><rect x="-117" y="-45.6" width="234" height="91.2"/><text y="-24.4">Hour_SubmitTime &lt;= 4.658</text><text y="-4.3">mse = 38.222</text><text y="15.9">samples = 3</text><text y="36">value = 3277.333</text></g>
<g id="n134" class="n" transform="translate(938 1567.4)"><rect x="-66" y="-35.6" width="132" height="71.2"/><text y="-14.4">mse = 0.0</text><text y="5.8">samples = 1</text><text y="26">value = 3253.0</text></g>
<g id="n135" class="n" transform="translate(1176 1567.4)"><rect x="-107" y="-45.6" width="214" height="91.2"/><text y="-24.4">Hour_StartTime &lt;= 9.804</text><text y="-4.3">mse = 14.222</text><text y="15.9">samples = 3</text><text y="36">value = 3268.667</text></g>
<g id="n136" class="n" transform="translate(1374 1567.4)"><rect x="-66" y="-35.6" width="132" height="71.2"/><text y="-14.4">mse = 0.0</text><text y="5.8">samples = 1</text><text y="26">value = 3261.0</text></g>
<g id="n137" class="n" transform="translate(588.5 1705.3)"><rect x="-66" y="-35.6" width="132" height="71.2"/><text y="-14.4">mse = 0.0</text><text y="5.8">samples = 1</text><text y="26">value = 3272.0</text></g>
<g id="n138" class="n" transform="translate(813.5 1705.3)"><rect x="-135.5" y="-45.6" width="271" height="91.2"/><text y="-24.4">StartTime_TS &lt;= 1451802705.43</text><text y="-4.3">mse = 36.0</text><text y="15.9">samples = 2</text><text y="36">value = 3280.0</text></g>
<g id="n139" class="n" transform="translate(1093.5 1705.3)"><rect x="-66" y="-35.6" width="132" height="71.2"/><text y="-14.4">mse = 0.0</text><text y="5.8">samples = 1</text><text y="26">value = 3266.0</text></g>
<g id="n140" class="n" transform="translate(1273.5 1705.3)"><rect x="-89.5" y="-45.6" width="179" height="91.2"/><text y="-24.4">WaitTime &lt;= 37.405</text><text y="-4.3">mse = 16.0</text><text y="15.9">samples = 2</text><text y="36">value = 3270.0</text></g>
<g id="n141" class="n" transform="translate(787 1843.2)"><rect x="-66" y="-35.6" width="132" height="71.2"/><text y="-14.4">mse = 0.0</text><text y="5.8">samples = 1</text><text y="26">value = 3286.0</text></g>
<g id="n142" class="n" transform="translate(943 1843.2)"><rect x="-66" y="-35.6" width="132" height="71.2"/><text y="-14.4">mse = 0.0</text><text y="5.8">samples = 1</text><text y="26">value = 3274.0</text></g>
<g id="n143" class="n" transform="translate(1146 1843.2)"><rect x="-66" y="-35.6" width="132" height="71.2"/><text y="-14.4">mse = 0.0</text><text y="5.8">samples = 1</text><text y="26">value = 3274.0</text></g>
<g id="n144" class="n" transform="translate(1301 1843.2)"><rect x="-66" y="-35.6" width="132" height="71.2"/><text y="-14.4">mse = 0.0</text><text y="5.8">samples = 1</text><text y="26">value = 3266.0</text></g>
</svg>
